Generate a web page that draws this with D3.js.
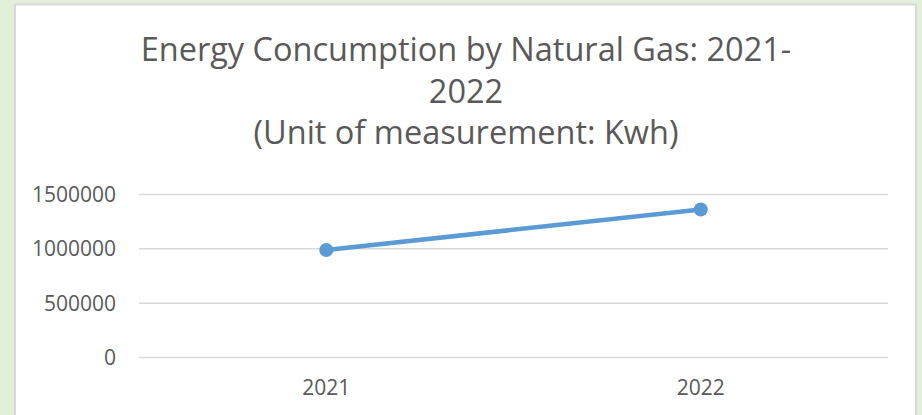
<!DOCTYPE html>
<html>
<head>
<meta charset="utf-8">
<script src="https://cdn.jsdelivr.net/npm/d3@7"></script>
<style>
	html, body { margin: 0; padding: 0; background: #e2efd9; }
	svg { display: block; }
	text { font-family: 'Open Sans', sans-serif; fill: #595959; }
</style>
</head>
<body>
<svg id="chart"></svg>
<script>
const YEARS = ['2021', '2022'];
const VALUES = [984000, 1358000];
const Y_TICKS = [0, 500000, 1000000, 1500000];
const TITLE_LINES = [
	'Energy Concumption by Natural Gas: 2021-',
	'2022',
	'(Unit of measurement: Kwh)'
];

const width = 922;
const height = 415;
const margin = { top: 194, right: 34, bottom: 58, left: 139 };

const $svg = d3.select('#chart').attr('width', width).attr('height', height);

// chart box
$svg.append('rect')
	.attr('x', 15)
	.attr('y', 4.5)
	.attr('width', 901)
	.attr('height', 430)
	.attr('fill', '#fff')
	.attr('stroke', '#d9d9d9')
	.attr('stroke-width', 2);

// title
$svg.append('g')
	.selectAll('text')
	.data(TITLE_LINES)
	.join('text')
	.attr('x', 466)
	.attr('y', (d, i) => 61 + i * 41.5)
	.attr('text-anchor', 'middle')
	.style('font-size', '32.5px')
	.text(d => d);

const x = d3.scaleBand()
	.domain(YEARS)
	.range([margin.left, width - margin.right]);

const y = d3.scaleLinear()
	.domain([0, 1500000])
	.range([357, margin.top]);

// gridlines + y labels
const yAxis = d3.axisLeft(y)
	.tickValues(Y_TICKS)
	.tickSize(-(width - margin.right - margin.left))
	.tickPadding(23)
	.tickFormat(d3.format('d'));

const $y = $svg.append('g')
	.attr('transform', `translate(${margin.left},0)`)
	.call(yAxis);
$y.select('.domain').remove();
$y.selectAll('line').attr('stroke', '#d9d9d9').attr('stroke-width', 1.5);
$y.selectAll('text')
	.style('font-size', '21px')
	.attr('dy', '0.35em');

// x labels
const xAxis = d3.axisBottom(x).tickSize(0).tickPadding(23);
const $x = $svg.append('g')
	.attr('transform', 'translate(0,357)')
	.call(xAxis);
$x.select('.domain').remove();
$x.selectAll('text').style('font-size', '21px');

const pts = YEARS.map((d, i) => ({ year: d, value: VALUES[i] }));

const line = d3.line()
	.x(d => x(d.year) + x.bandwidth() / 2)
	.y(d => y(d.value));

$svg.append('path')
	.datum(pts)
	.attr('d', line)
	.attr('fill', 'none')
	.attr('stroke', '#5b9bd5')
	.attr('stroke-width', 4.5)
	.attr('stroke-linecap', 'round');

$svg.append('g')
	.selectAll('circle')
	.data(pts)
	.join('circle')
	.attr('cx', d => x(d.year) + x.bandwidth() / 2)
	.attr('cy', d => y(d.value))
	.attr('r', 7)
	.attr('fill', '#5b9bd5');
</script>
</body>
</html>
